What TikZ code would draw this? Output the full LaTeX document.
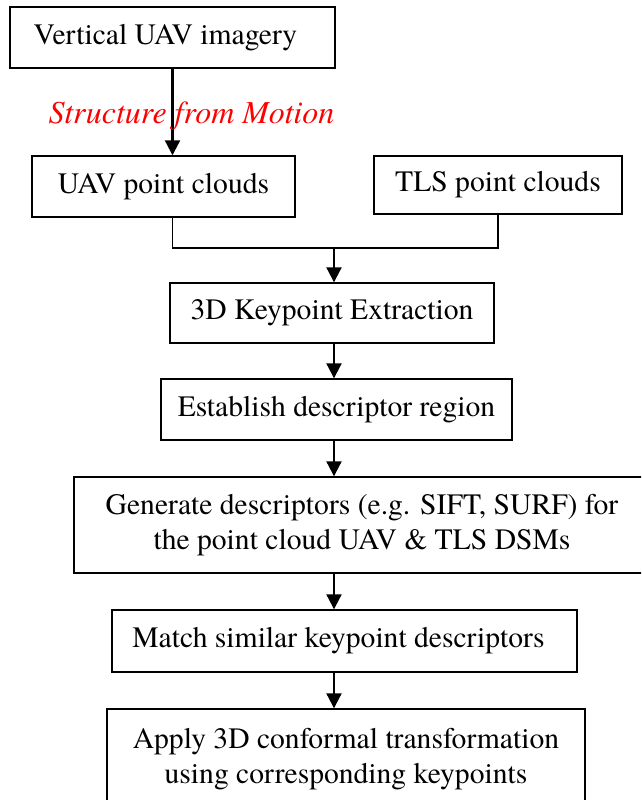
\documentclass[tikz,border=0pt]{standalone}
\usepackage{fontspec}
\setmainfont{texgyretermes}[Extension=.otf, UprightFont=*-regular, ItalicFont=*-italic, BoldFont=*-bold, BoldItalicFont=*-bolditalic]
\usetikzlibrary{arrows.meta}
\begin{document}
\begin{tikzpicture}[x=1pt,y=-1pt,
  box/.style={draw, line width=1.4pt, inner sep=0pt, align=center, font=\rmfamily\fontsize{29.6}{35}\selectfont},
  conn/.style={line width=1.5pt},
  arr/.style={line width=2.1pt, -{Triangle[length=15pt,width=15pt]}},
  sfmlabel/.style={font=\rmfamily\fontsize{32}{38}\selectfont\itshape, text=red, anchor=base, inner sep=0pt}]
\useasboundingbox (0,0) rectangle (641,800);
\clip (0,0) rectangle (641,800);
\fill[white] (0,0) rectangle (641,800);

\node[box, minimum width=325pt, minimum height=61pt] (img) at (172.5,37.5) {Vertical UAV imagery\hspace*{14pt}};
\node[box, minimum width=263pt, minimum height=61pt] (uav) at (163.5,186.5) {UAV point clouds};
\node[box, minimum width=248pt, minimum height=58pt] (tls) at (498,185) {TLS point clouds};
\node[box, minimum width=324pt, minimum height=60pt] (kp) at (332,313) {3D Keypoint Extraction};
\node[box, minimum width=351pt, minimum height=61pt] (est) at (336.5,409.5) {Establish descriptor region};
\node[box, minimum width=576pt, minimum height=96pt] (gen) at (362,525) {Generate descriptors (e.g. SIFT, SURF) for\\the point cloud UAV \& TLS DSMs};
\node[box, minimum width=465pt, minimum height=62pt] (match) at (344.5,641) {Match similar keypoint descriptors\hspace*{12pt}};
\node[box, minimum width=478pt, minimum height=101pt] (apply) at (346,759.5) {Apply 3D conformal transformation\\using corresponding keypoints};

\coordinate (j) at (334,248);

\draw[arr] (img.south) -- (img.south |- uav.north);
\draw[conn] (img.south |- uav.south) -- (img.south |- j) -- (tls.south |- j) -- (tls.south);
\draw[arr] (j) -- (j |- kp.north);
\draw[arr] (j |- kp.south) -- (j |- est.north);
\draw[arr] (j |- est.south) -- (j |- gen.north);
\draw[arr] (j |- gen.south) -- (j |- match.north);
\draw[arr] (j |- match.south) -- (j |- apply.north);

\node[sfmlabel] (sfm) at (191.5,123) {Structure from Motion};
\end{tikzpicture}
\end{document}
